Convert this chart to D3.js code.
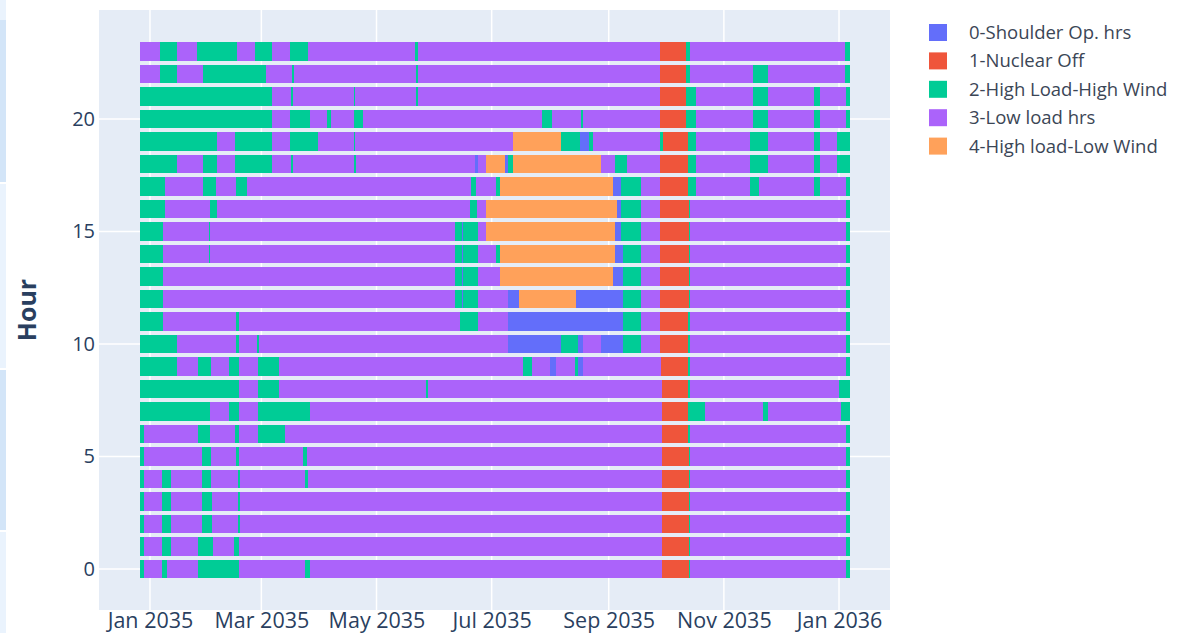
<!DOCTYPE html>
<html>
<head>
<meta charset="utf-8">
<script src="https://cdn.jsdelivr.net/npm/d3@7"></script>
<style>
  body { margin: 0; background: #fff; }
  text { font-family: "Open Sans", sans-serif; }
</style>
</head>
<body>
<div id="chart"></div>
<script>
// cluster names and colours (plotly default palette)
var clusters = ["0-Shoulder Op. hrs", "1-Nuclear Off", "2-High Load-High Wind", "3-Low load hrs", "4-High load-Low Wind"];
var colors = ["#636efa", "#EF553B", "#00cc96", "#ab63fa", "#FFA15A"];

var hours = d3.range(24);
var yTicks = [0, 5, 10, 15, 20];

// runs per hour: [day since 1 Jan 2035 where the run starts, cluster]
// a run lasts until the next one starts; the last one until lastDay
var lastDay = 370.9;
var runs = [
  /* 0 */ [[-5.3,2],[-3.2,3],[6.2,2],[8.8,3],[25.6,2],[47.3,3],[82.1,2],[84.7,3],[271.2,1],[285.3,2],[285.9,3],[368.8,2]],
  /* 1 */ [[-5.3,2],[-3.2,3],[6.2,2],[11,3],[25.6,2],[33.2,3],[44.5,2],[47.3,3],[271.2,1],[285.3,2],[285.9,3],[368.8,2]],
  /* 2 */ [[-5.3,2],[-3.2,3],[6.2,2],[11,3],[27.4,2],[32.7,3],[46.7,2],[47.6,3],[271.2,1],[285.3,2],[285.9,3],[368.8,2]],
  /* 3 */ [[-5.3,2],[-3.2,3],[6.2,2],[11,3],[27.4,2],[32.7,3],[46.7,2],[47.6,3],[271.2,1],[285.3,2],[285.9,3],[368.8,2]],
  /* 4 */ [[-5.3,2],[-3.2,3],[6.2,2],[11,3],[27.4,2],[32.1,3],[46.7,2],[47.6,3],[82.1,2],[83.8,3],[271.2,1],[285.3,2],[285.9,3],[368.8,2]],
  /* 5 */ [[-5.3,2],[-3.2,3],[27.4,2],[32.1,3],[45.5,2],[47.3,3],[80.8,2],[83.3,3],[271.2,1],[285.3,2],[285.9,3],[368.8,2]],
  /* 6 */ [[-5.3,2],[-3.2,3],[25.6,2],[32,3],[45,2],[47.3,3],[57,2],[71.5,3],[271.2,1],[285,2],[286.2,3],[368.8,2]],
  /* 7 */ [[-5.3,2],[32,3],[42,2],[47.3,3],[57,2],[84.7,3],[271.2,1],[285,2],[293.8,3],[324.7,2],[327.3,3],[366.2,2]],
  /* 8 */ [[-5.3,2],[47.3,3],[57,2],[68.5,3],[146.1,2],[147.1,3],[271.2,1],[285,2],[286.2,3],[364.9,2]],
  /* 9 */ [[-5.3,2],[14.1,3],[25.6,2],[32.1,3],[42,2],[47.3,3],[57,2],[68.5,3],[197.6,2],[202.1,3],[211.8,0],[215.3,3],[225,2],[226.7,0],[229.4,3],[270.8,1],[285,2],[286.2,3],[368.8,2]],
  /* 10 */ [[-5.3,2],[14.1,3],[45.5,2],[47.3,3],[56.6,2],[57.5,3],[189.7,0],[217.6,2],[226.7,0],[229.4,3],[239.1,0],[250.6,2],[259.9,3],[270.3,1],[285,2],[286.2,3],[368.8,2]],
  /* 11 */ [[-5.3,2],[7,3],[45.5,2],[47.3,3],[164.1,2],[173.8,3],[189.7,0],[250.6,2],[259.9,3],[270.3,1],[285,2],[286.2,3],[368.8,2]],
  /* 12 */ [[-5.3,2],[7,3],[161.5,2],[165.2,0],[165.8,2],[173.8,3],[189.7,0],[195.5,4],[225.9,0],[250.6,2],[259.9,3],[270.3,1],[285.3,2],[286.2,3],[368.8,2]],
  /* 13 */ [[-5.3,2],[7,3],[161.5,2],[165.2,0],[165.8,2],[173.8,3],[185.3,4],[245.3,0],[250.6,2],[259.9,3],[270.3,1],[285.3,2],[286.2,3],[368.8,2]],
  /* 14 */ [[-5.3,2],[7,3],[31.2,2],[31.8,3],[161.5,2],[165.2,0],[165.8,2],[173.8,3],[183.5,2],[185.3,4],[246.2,0],[250.6,2],[259.9,3],[270.3,1],[285.3,2],[286.2,3],[368.8,2]],
  /* 15 */ [[-5.3,2],[7,3],[31.2,2],[31.8,3],[161.5,2],[165.2,0],[165.8,2],[173.8,3],[178.2,4],[246.2,0],[249.7,2],[259.9,3],[270.3,1],[285.3,2],[286.2,3],[368.8,2]],
  /* 16 */ [[-5.3,2],[7.9,3],[31.8,2],[35.3,3],[169.4,2],[173.3,3],[178.2,4],[247.4,0],[249.7,2],[259.9,3],[270.3,1],[285.3,2],[286.2,3],[368.8,2]],
  /* 17 */ [[-5.3,2],[7.9,3],[28.2,2],[34.9,3],[45.5,2],[51.5,3],[169.8,2],[172.9,3],[183.5,2],[185.3,4],[245.3,0],[249.7,2],[259.9,3],[270.3,1],[285,2],[289,3],[317.6,2],[322.6,3],[352,2],[354.7,3],[368.8,2]],
  /* 18 */ [[-5.3,2],[14.1,3],[28.2,2],[35.3,3],[45,2],[64.4,3],[74.5,2],[75.9,3],[108,2],[109,3],[172,0],[173.8,3],[178.2,4],[187.9,0],[189.7,2],[192.3,4],[238.7,3],[246.2,2],[252.7,3],[270.3,1],[285,2],[289,3],[317.6,2],[327.3,3],[352,2],[354.7,3],[364.1,2]],
  /* 19 */ [[-5.3,2],[35.3,3],[45,2],[64.4,3],[74.1,2],[88.8,3],[108,2],[108.8,3],[192.3,4],[217.9,2],[227.6,0],[232.6,2],[234.7,3],[270.3,2],[271.7,1],[285,2],[289,3],[317.6,2],[327.3,3],[352,2],[354.7,3],[364.1,2]],
  /* 20 */ [[-5.3,2],[64.4,3],[74.1,2],[84.7,3],[93.9,2],[95.8,3],[108,2],[112.6,3],[207.9,2],[212.7,3],[228.5,2],[229.2,3],[270,1],[284.1,2],[289,3],[319.4,2],[327.3,3],[352,2],[354.7,3],[368.8,2]],
  /* 21 */ [[-5.3,2],[64.4,3],[74.5,2],[75.9,3],[108,2],[108.8,3],[140.8,2],[142.2,3],[270,1],[284.1,2],[289,3],[319.4,2],[327.3,3],[352,2],[354.7,3],[368.8,2]],
  /* 22 */ [[-5.3,3],[5.3,2],[14.1,3],[28.2,2],[61.4,3],[75,2],[76.2,3],[140.8,2],[142.2,3],[270,1],[283.7,2],[285.9,3],[319.4,2],[327.3,3],[367.9,2]],
  /* 23 */ [[-5.3,3],[5.3,2],[14.1,3],[24.7,2],[46.2,3],[55.6,2],[64.4,3],[74.1,2],[83.8,3],[140.3,2],[142,3],[270,1],[283.7,2],[285.9,3],[367.9,2]]
];

var base = Date.UTC(2035, 0, 1);
function dayToDate(d) { return new Date(base + d * 864e5); }

// flatten the runs into bar segments
var segments = [];
hours.forEach(function (h) {
  var r = runs[h];
  r.forEach(function (run, i) {
    segments.push({
      hour: h,
      start: dayToDate(run[0]),
      end: dayToDate(i < r.length - 1 ? r[i + 1][0] : lastDay),
      cluster: run[1]
    });
  });
});

var W = 1183, H = 633;
var plot = { left: 99, right: 890, top: 10, bottom: 610 };

var svg = d3.select("#chart").append("svg")
  .attr("width", W)
  .attr("height", H);

// bits of the surrounding page at the left edge
var edge = [[0, 20, "#eaf3fd"], [20, 162, "#d3e5f8"], [184, 184, "#eaf3fd"], [370, 160, "#d3e5f8"], [532, 101, "#eaf3fd"]];
svg.selectAll(".edge").data(edge).enter().append("rect")
  .attr("x", 0).attr("y", function (d) { return d[0]; })
  .attr("width", 6).attr("height", function (d) { return d[1]; })
  .attr("fill", function (d) { return d[2]; });

var x = d3.scaleUtc()
  .domain([dayToDate(-27), dayToDate(392)])
  .range([plot.left, plot.right]);

var y = d3.scaleLinear()
  .domain([-1.82, 24.84])
  .range([plot.bottom, plot.top]);

// plot background
svg.append("rect")
  .attr("x", plot.left).attr("y", plot.top)
  .attr("width", plot.right - plot.left)
  .attr("height", plot.bottom - plot.top)
  .attr("fill", "#E5ECF6");

var xTicks = x.ticks(d3.utcMonth.every(2));

// grid
svg.selectAll(".vgrid").data(xTicks).enter().append("line")
  .attr("x1", function (d) { return x(d); }).attr("x2", function (d) { return x(d); })
  .attr("y1", plot.top).attr("y2", plot.bottom)
  .attr("stroke", "#fff").attr("stroke-width", 1.5);
svg.selectAll(".hgrid").data(yTicks).enter().append("line")
  .attr("x1", plot.left).attr("x2", plot.right)
  .attr("y1", function (d) { return y(d); }).attr("y2", function (d) { return y(d); })
  .attr("stroke", "#fff").attr("stroke-width", 1.5);

// bars
var half = 0.41;
svg.append("g").selectAll("rect")
  .data(segments)
  .enter().append("rect")
  .attr("x", function (d) { return x(d.start); })
  .attr("width", function (d) { return Math.max(0.6, x(d.end) - x(d.start)); })
  .attr("y", function (d) { return y(d.hour + half); })
  .attr("height", function (d) { return y(d.hour - half) - y(d.hour + half); })
  .attr("fill", function (d) { return colors[d.cluster]; })
  .attr("shape-rendering", "crispEdges");

// x axis labels
var xAxis = svg.append("g")
  .attr("transform", "translate(0," + plot.bottom + ")")
  .call(d3.axisBottom(x).tickValues(xTicks).tickFormat(d3.utcFormat("%b %Y")).tickSize(0).tickPadding(0));
xAxis.select(".domain").remove();
xAxis.selectAll("text")
  .attr("y", 18).attr("dy", 0)
  .style("font-family", "'Open Sans', sans-serif")
  .style("font-size", "21.5px")
  .attr("fill", "#2a3f5f");

// y axis labels
var yAxis = svg.append("g")
  .attr("transform", "translate(" + plot.left + ",0)")
  .call(d3.axisLeft(y).tickValues(yTicks).tickSize(0).tickPadding(4));
yAxis.select(".domain").remove();
yAxis.selectAll("text")
  .style("font-family", "'Open Sans', sans-serif")
  .style("font-size", "20px")
  .attr("fill", "#2a3f5f");

// y axis title
svg.append("text")
  .attr("transform", "translate(36," + ((plot.top + plot.bottom) / 2) + ") rotate(-90)")
  .attr("text-anchor", "middle")
  .style("font-size", "25px")
  .style("font-weight", "bold")
  .attr("fill", "#2a3f5f")
  .text("Hour");

// legend
var legend = svg.append("g").attr("transform", "translate(929,24)");
var item = legend.selectAll("g").data(clusters).enter().append("g")
  .attr("transform", function (d, i) { return "translate(0," + (i * 28.4) + ")"; });
item.append("rect")
  .attr("width", 18).attr("height", 17)
  .attr("fill", function (d, i) { return colors[i]; });
item.append("text")
  .attr("x", 40).attr("y", 8.5).attr("dy", "0.35em")
  .style("font-size", "18.5px")
  .attr("fill", "#3b4656")
  .text(function (d) { return d; });
</script>
</body>
</html>
